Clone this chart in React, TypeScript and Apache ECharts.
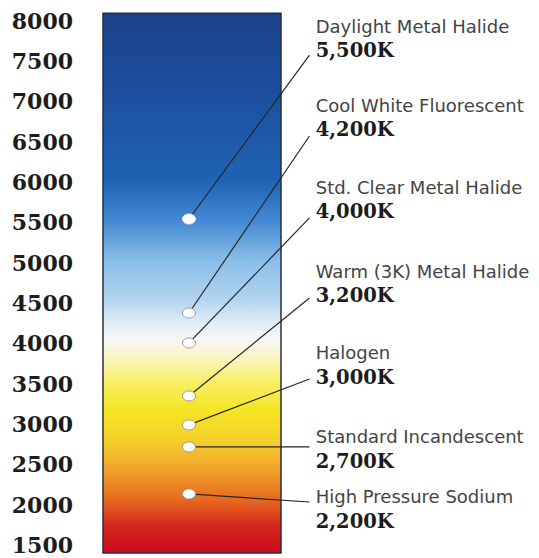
import React, { useEffect, useRef } from "react";
import * as echarts from "echarts";

// ---- data ----
const lampNames = [
  "Daylight Metal Halide",
  "Cool White Fluorescent",
  "Std. Clear Metal Halide",
  "Warm (3K) Metal Halide",
  "Halogen",
  "Standard Incandescent",
  "High Pressure Sodium",
];
const kelvinLabels = ["5,500K", "4,200K", "4,000K", "3,200K", "3,000K", "2,700K", "2,200K"];
// where each white dot sits on the Kelvin scale
const dotK = [5540, 4375, 4004, 3347, 2988, 2715, 2133];
// where each Kelvin text sits on the scale
const labelK = [7628, 6643, 5627, 4586, 3576, 2535, 1792];
// where each leader line ends on the scale
const leaderEndK = [7572, 6569, 5553, 4561, 3557, 2715, 2033];
// extent of the colour bar
const barRangeK = [1400, 8090];
const axisMinK = 1500;
const axisMaxK = 8000;
const axisStepK = 500;

// gradient colours (top -> bottom)
const gradientStops: [number, string][] = [
  [0, "#1b4289"],
  [0.161, "#1d50a0"],
  [0.309, "#1f63b3"],
  [0.383, "#4288d2"],
  [0.457, "#88bde8"],
  [0.531, "#b2d5f0"],
  [0.575, "#e2eef6"],
  [0.606, "#f8f8f4"],
  [0.639, "#fbf5c2"],
  [0.68, "#f8ee6a"],
  [0.735, "#f5e622"],
  [0.791, "#f4d02a"],
  [0.846, "#f0a22a"],
  [0.902, "#e6681f"],
  [0.948, "#d42a1e"],
  [1, "#c80a1c"],
];

export default function App() {
  const ref = useRef<HTMLDivElement>(null);

  useEffect(() => {
    if (!ref.current) return;
    const chart = echarts.init(ref.current, undefined, { renderer: "svg" });

    const DOT_X = 48.3;
    const LEADER_X = 116;
    const TEXT_X = 119.5;
    const NAME_OFFSET = -24.5;

    chart.setOption({
      animation: false,
      backgroundColor: "#ffffff",
      grid: { left: 103, right: 258, top: 20.5, bottom: 13, containLabel: false },
      xAxis: { type: "value", min: 0, max: 100, show: false },
      yAxis: {
        type: "value",
        min: axisMinK,
        max: axisMaxK,
        interval: axisStepK,
        axisLine: { show: false },
        axisTick: { show: false },
        splitLine: { show: false },
        axisLabel: {
          margin: 30,
          fontFamily: "DejaVu Serif",
          fontWeight: "bold",
          fontSize: 22,
          color: "#1c1c1c",
          formatter: (v: number) => String(v),
        },
      },
      series: [
        {
          type: "custom",
          clip: false,
          silent: true,
          data: [[0]],
          renderItem: (_params: any, api: any) => {
            const p1 = api.coord([0, barRangeK[1]]);
            const p2 = api.coord([100, barRangeK[0]]);
            return {
              type: "rect",
              shape: { x: p1[0], y: p1[1], width: p2[0] - p1[0], height: p2[1] - p1[1] },
              style: {
                fill: new echarts.graphic.LinearGradient(
                  0,
                  0,
                  0,
                  1,
                  gradientStops.map(([offset, color]) => ({ offset, color }))
                ),
                stroke: "#2a2f3a",
                lineWidth: 1.5,
              },
            };
          },
        },
        {
          type: "custom",
          clip: false,
          silent: true,
          data: lampNames.map((_, i) => [i]),
          renderItem: (params: any, api: any) => {
            const i = params.dataIndex;
            const dot = api.coord([DOT_X, dotK[i]]);
            const end = api.coord([LEADER_X, leaderEndK[i]]);
            const lab = api.coord([TEXT_X, labelK[i]]);
            const light = dotK[i] < 5000;
            return {
              type: "group",
              children: [
                {
                  type: "line",
                  shape: { x1: dot[0], y1: dot[1], x2: end[0], y2: end[1] },
                  style: { stroke: "#262626", lineWidth: 1.2 },
                },
                {
                  type: "ellipse",
                  shape: { cx: dot[0], cy: dot[1], rx: 6.5, ry: 5 },
                  style: {
                    fill: "#ffffff",
                    stroke: light ? "#9a9a9a" : "#e8eef8",
                    lineWidth: 1,
                  },
                },
                {
                  type: "text",
                  style: {
                    text: lampNames[i],
                    x: lab[0],
                    y: lab[1] + NAME_OFFSET,
                    fill: "#444444",
                    fontFamily: "DejaVu Sans",
                    fontSize: 18,
                    align: "left",
                    verticalAlign: "middle",
                  },
                },
                {
                  type: "text",
                  style: {
                    text: kelvinLabels[i],
                    x: lab[0],
                    y: lab[1],
                    fill: "#1c1c1c",
                    fontFamily: "DejaVu Serif",
                    fontWeight: "bold",
                    fontSize: 19.5,
                    align: "left",
                    verticalAlign: "middle",
                  },
                },
              ],
            };
          },
        },
      ],
    });

    return () => chart.dispose();
  }, []);

  return (
    <div
      ref={ref}
      style={{ position: "fixed", left: 0, top: 0, width: 539, height: 558, background: "#fff" }}
    />
  );
}
